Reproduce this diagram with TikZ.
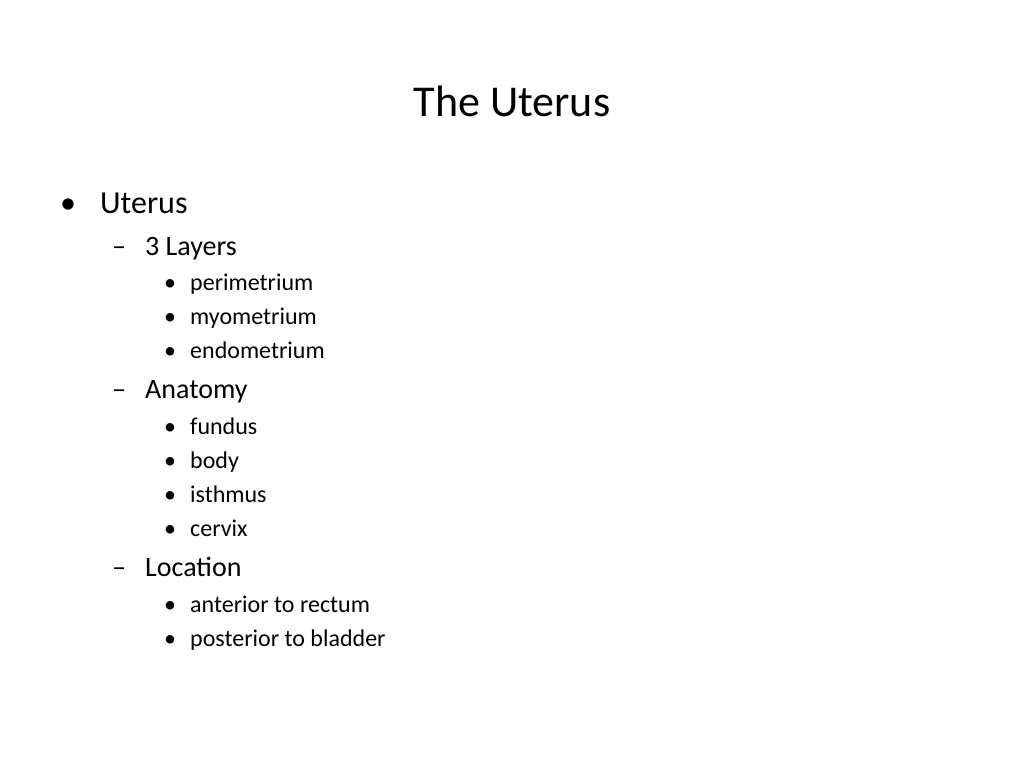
\documentclass[tikz,border=0pt]{standalone}
\usepackage{fontspec}
\setmainfont{Carlito}
\begin{document}
\begin{tikzpicture}[x=1pt,y=-1pt,
  lone/.style={anchor=base west,inner sep=0pt,font=\fontsize{32}{36}\selectfont},
  ltwo/.style={anchor=base west,inner sep=0pt,font=\fontsize{28}{32}\selectfont},
  lthree/.style={anchor=base west,inner sep=0pt,font=\fontsize{24}{28}\selectfont}]
\useasboundingbox[fill=white] (0,0) rectangle (1024,768);
\node[anchor=base,inner sep=0pt,font=\fontsize{44}{50}\selectfont] (title) at (512,116) {The Uterus};
\node[lone] (b1) at (60,213) {•};
\node[lone] (t1) at (100,213) {Uterus};
\foreach \y/\t/\n in {255/3 Layers/a,398/Anatomy/b,576/Location/c}{
  \node[ltwo] (d\n) at (112,\y) {–};
  \node[ltwo] (t\n) at (145,\y) {\t};
}
\foreach \y/\t/\n in {290/perimetrium/1,324/myometrium/2,358/endometrium/3,434/fundus/4,468/body/5,502/isthmus/6,536/cervix/7,612/anterior to rectum/8,646/posterior to bladder/9}{
  \node[lthree] (e\n) at (164,\y) {•};
  \node[lthree] (s\n) at (190,\y) {\t};
}
\end{tikzpicture}
\end{document}
